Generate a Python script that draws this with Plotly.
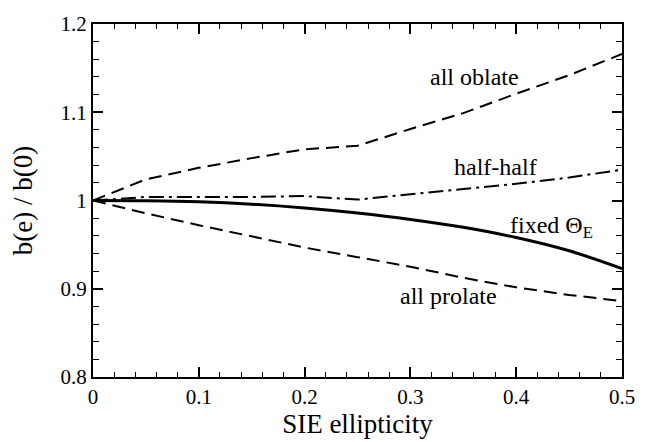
import plotly.graph_objects as go

ellipticity = [0.0, 0.05, 0.10, 0.15, 0.20, 0.25, 0.30, 0.35, 0.40, 0.45, 0.50]
all_oblate = [1.000, 1.024, 1.037, 1.048, 1.058, 1.062, 1.081, 1.099, 1.121, 1.142, 1.166]
half_half = [1.000, 1.004, 1.004, 1.004, 1.005, 1.001, 1.007, 1.013, 1.019, 1.026, 1.035]
fixed_theta = [1.000, 0.9997, 0.9985, 0.9958, 0.9915, 0.9858, 0.9786, 0.9696, 0.9580, 0.9430, 0.9228]
all_prolate = [1.000, 0.9855, 0.972, 0.9593, 0.9467, 0.9358, 0.925, 0.9124, 0.9016, 0.893, 0.886]

labels = ["all oblate", "half-half", "fixed Θ<sub>E</sub>", "all prolate"]
label_x = [0.361, 0.38, 0.433, 0.336]
label_y = [1.140, 1.0374, 0.970, 0.892]

FONT = "Liberation Serif, Times New Roman, serif"

fig = go.Figure()
fig.add_trace(go.Scatter(x=ellipticity, y=all_oblate, mode="lines",
                         line=dict(color="black", width=2, dash="13px,7px")))
fig.add_trace(go.Scatter(x=ellipticity, y=half_half, mode="lines",
                         line=dict(color="black", width=2, dash="15px,5px,3px,5px")))
fig.add_trace(go.Scatter(x=ellipticity, y=fixed_theta, mode="lines", line_shape="spline",
                         line=dict(color="black", width=3)))
fig.add_trace(go.Scatter(x=ellipticity, y=all_prolate, mode="lines",
                         line=dict(color="black", width=2, dash="13px,7px")))

for t, x, y in zip(labels, label_x, label_y):
    fig.add_annotation(x=x, y=y, text=t, showarrow=False,
                       font=dict(family=FONT, size=24, color="black"))

axis_common = dict(
    showline=True, linecolor="black", linewidth=2, mirror="ticks",
    ticks="inside", ticklen=10, tickwidth=1.5, tickcolor="black",
    showgrid=False, zeroline=False,
    tickfont=dict(family=FONT, size=21, color="black"),
)

fig.update_xaxes(range=[0, 0.5],
                 tickvals=[0, 0.1, 0.2, 0.3, 0.4, 0.5],
                 ticktext=["0", "0.1", "0.2", "0.3", "0.4", "0.5"],
                 minor=dict(dtick=0.02, tick0=0, ticks="inside", ticklen=5, tickwidth=1.2, tickcolor="black"),
                 title=dict(text="SIE ellipticity", font=dict(family=FONT, size=27, color="black"), standoff=2),
                 **axis_common)
fig.update_yaxes(range=[0.8, 1.2],
                 tickvals=[0.8, 0.9, 1.0, 1.1, 1.2],
                 ticktext=["0.8", "0.9", "1", "1.1", "1.2"],
                 minor=dict(dtick=0.02, tick0=0.8, ticks="inside", ticklen=6, tickwidth=1.2, tickcolor="black"),
                 title=dict(text="b(e) / b(0)", font=dict(family=FONT, size=27, color="black"), standoff=20),
                 **axis_common)

fig.update_layout(
    width=647, height=442,
    margin=dict(l=93, r=25, t=13, b=60),
    plot_bgcolor="white", paper_bgcolor="white",
    showlegend=False,
    font=dict(family=FONT, color="black"),
)

fig.write_html("out.html")
